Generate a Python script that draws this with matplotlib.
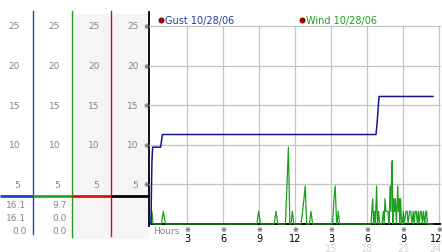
import matplotlib
matplotlib.use("Agg")
import matplotlib.pyplot as plt
from matplotlib.transforms import blended_transform_factory, offset_copy
from matplotlib.patches import Rectangle

# ---------------- data ----------------
gust_hours = [0.0, 0.04, 0.08, 0.14, 0.8, 0.95, 18.75, 18.85, 19.0, 23.5]
gust_values = [0.0, 4.8, 8.0, 9.7, 9.7, 11.3, 11.3, 12.9, 16.1, 16.1]

wind_hours = [0.0, 0.08, 0.17,
              0.87, 1.03, 1.2,
              8.83, 8.97, 9.13,
              10.27, 10.42, 10.57,
              11.2, 11.33, 11.45, 11.57,
              11.67, 11.78, 11.9,
              12.5, 12.63, 12.75, 12.85, 12.97,
              13.2, 13.33, 13.47,
              15.13, 15.25, 15.35, 15.47,
              15.5, 15.6, 15.72,
              18.33, 18.47, 18.55, 18.63, 18.7, 18.8, 18.88, 18.97, 19.05,
              19.25, 19.36, 19.43, 19.5, 19.58, 19.75, 19.83,
              19.85, 19.92, 20.0, 20.03, 20.1, 20.17, 20.22, 20.3, 20.36, 20.45,
              20.56, 20.62, 20.67, 20.73, 20.8, 20.88,
              20.95, 21.03, 21.1, 21.25, 21.35, 21.42, 21.55, 21.65, 21.75, 21.85,
              21.92, 22.02, 22.1, 22.2, 22.27, 22.35, 22.45, 22.52, 22.62, 22.7,
              22.82, 22.9, 22.97, 23.03, 23.5]
wind_values = [0.0, 1.6, 0.0,
               0.0, 1.6, 0.0,
               0.0, 1.6, 0.0,
               0.0, 1.6, 0.0,
               0.0, 4.8, 9.7, 0.0,
               0.0, 1.6, 0.0,
               0.0, 1.6, 3.2, 4.8, 0.0,
               0.0, 1.6, 0.0,
               0.0, 3.2, 4.8, 0.0,
               0.0, 1.6, 0.0,
               0.0, 3.2, 0.0, 1.6, 0.0, 4.8, 0.0, 1.6, 0.0,
               0.0, 1.6, 0.0, 3.2, 1.6, 1.6, 0.0,
               0.0, 4.8, 1.6, 4.8, 8.0, 0.0, 3.2, 1.6, 3.2, 0.0,
               4.8, 1.6, 3.2, 0.0, 3.2, 0.0,
               0.0, 1.6, 0.0, 1.6, 1.6, 0.0, 1.6, 1.6, 0.0, 1.6,
               0.0, 1.6, 1.6, 0.0, 1.6, 0.0, 1.6, 1.6, 0.0, 1.6,
               0.0, 1.6, 1.6, 0.0, 0.0]

y_ticks = [5, 10, 15, 20, 25]
x_ticks = [3, 6, 9, 12, 15, 18, 21, 24]
x_tick_labels = ["3", "6", "9", "12", "3", "6", "9", "12"]
x_tick_labels2 = ["", "", "", "", "15", "18", "21", "24"]
gust_label = "Gust 10/28/06"
wind_label = "Wind 10/28/06"

# ---------------- figure ----------------
W, H = 442, 253
fig = plt.figure(figsize=(W / 100, H / 100), dpi=100)
fig.patch.set_facecolor("white")

ov = fig.add_axes([0, 0, 1, 1])
ov.set_xlim(0, W)
ov.set_ylim(H, 0)
ov.axis("off")

x0, x1 = 151, 439
y0, y1 = 225, 27
ax = fig.add_axes([x0 / W, (H - y0) / H, (x1 - x0) / W, (y0 - y1) / H])
ax.set_xlim(0, 24)
ax.set_ylim(0, 25)
ax.axis("off")
ax.patch.set_alpha(0)

FS = 6.5
GREY_TXT = "#858585"
BLUE = "#1c44b8"
GREEN = "#1e9a1e"
RED = "#b81818"
MARK_FONT = ["DejaVu Sans", "Noto Sans CJK JP"]

# left panel background and separators
ov.add_patch(Rectangle((72, 15), 77, 225, facecolor="#f5f5f5", edgecolor="none", zorder=0))
ov.plot([33, 33], [12, 235], color=BLUE, lw=1.0, zorder=2)
ov.plot([72, 72], [12, 238], color=GREEN, lw=1.0, zorder=2)
ov.plot([111, 111], [12, 237], color=RED, lw=1.0, zorder=2)
ov.plot([149, 149], [13, 227], color="black", lw=1.3, zorder=3)

# current-level bar
bar_y = 196.5
ov.plot([0, 33], [bar_y, bar_y], color="#1c44c8", lw=2.0, solid_capstyle="butt", zorder=3)
ov.plot([33, 72], [bar_y, bar_y], color="#22a822", lw=2.0, solid_capstyle="butt", zorder=3)
ov.plot([72, 111], [bar_y, bar_y], color="#e01010", lw=2.0, solid_capstyle="butt", zorder=3)
ov.plot([111, 149], [bar_y, bar_y], color="black", lw=2.0, solid_capstyle="butt", zorder=3)

# left scale labels
tr = blended_transform_factory(ov.transData, ax.transData)
for v in y_ticks:
    for xr in [20, 60, 99.5, 138.5]:
        ov.text(xr, v, str(v), transform=tr, ha="right", va="center",
                fontsize=FS, color=GREY_TXT)
    ov.text(146.5, v, "※", transform=tr, ha="center", va="center",
            fontsize=5, color="#222222", family=MARK_FONT)

# stats below
gust_stats = [max(gust_values), gust_values[-1], min(gust_values)]
wind_stats = [max(wind_values), wind_values[-1], min(wind_values)]
for yy, gs, ws in zip([205.5, 218.5, 231.5], gust_stats, wind_stats):
    ov.text(26.5, yy, f"{gs:.1f}", ha="right", va="center", fontsize=FS, color=GREY_TXT)
    ov.text(66.5, yy, f"{ws:.1f}", ha="right", va="center", fontsize=FS, color=GREY_TXT)

# grid
for v in y_ticks:
    ax.plot([-0.15, 24.1], [v, v], color="#c4c4c4", lw=0.9, zorder=1, clip_on=False)
for h in x_ticks:
    ax.plot([h, h], [0, 25], color="#c4c4c4", lw=0.9, zorder=1, clip_on=False)

# x axis line
ax.plot([-0.17, 24.1], [0, 0], color="black", lw=1.4, zorder=2, clip_on=False)

# series
ax.plot(wind_hours, wind_values, color="#1f9f1f", lw=0.9, zorder=4, clip_on=False)
ax.plot(gust_hours, gust_values, color="#151590", lw=1.1, zorder=5, clip_on=False)

# x tick labels
trx = blended_transform_factory(ax.transData, ov.transData)
for h, lab, lab2 in zip(x_ticks, x_tick_labels, x_tick_labels2):
    ov.text(h, 230.5, "※", transform=trx, ha="center", va="center",
            fontsize=5, color="#222222", family=MARK_FONT)
    if h == x_ticks[-1]:
        t = offset_copy(trx, fig=fig, x=3, y=0, units="dots")
        ha = "right"
    else:
        t = trx
        ha = "center"
    ov.text(h, 239.5, lab, transform=t, ha=ha, va="center",
            fontsize=FS + 0.5, color="black")
    if lab2:
        ov.text(h, 249.5, lab2, transform=t, ha=ha, va="center",
                fontsize=FS + 0.5, color="#d4d4d4")
ov.text(153, 232, "Hours", ha="left", va="center", fontsize=FS, color=GREY_TXT)

# legend
ov.scatter([160.5], [20.5], s=14, color="#b00000", edgecolors="#500000", linewidths=0.5, zorder=6)
ov.text(165, 20.5, gust_label, ha="left", va="center", fontsize=7, color="#1c3ca8")
ov.scatter([302], [20.5], s=14, color="#b00000", edgecolors="#500000", linewidths=0.5, zorder=6)
ov.text(306.5, 20.5, wind_label, ha="left", va="center", fontsize=7, color="#1f9f1f")

fig.savefig("out.png", dpi=100, facecolor="white")
